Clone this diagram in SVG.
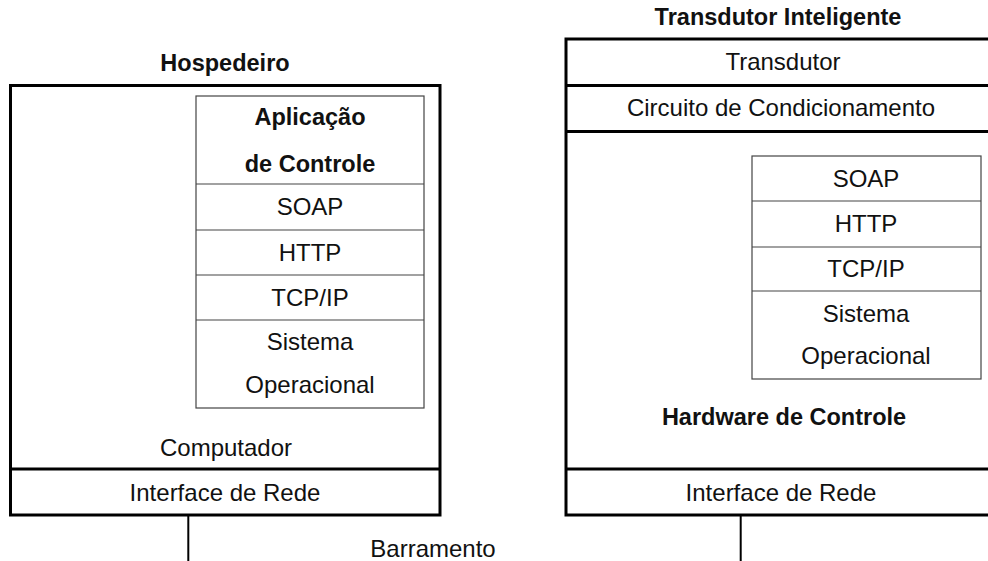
<svg xmlns="http://www.w3.org/2000/svg" width="988" height="561" viewBox="0 0 988 561">
<style>
  text { font-family: "Liberation Sans", Arial, sans-serif; font-size: 24px; fill: #111; text-anchor: middle; }
  .b { font-weight: bold; font-size: 23.5px; }
  .outer { fill: none; stroke: #000; stroke-width: 3; }
  .inner { fill: none; stroke: #444; stroke-width: 1.2; }
  .conn { stroke: #000; stroke-width: 2; fill: none; }
</style>
<rect width="988" height="561" fill="#fff"/>

<g id="hospedeiro">
  <text class="b" x="225" y="71">Hospedeiro</text>
  <rect class="outer" x="10.5" y="85.5" width="429.5" height="429.5"/>
  <line class="outer" x1="10.5" y1="469" x2="440" y2="469"/>
  <text x="226" y="456">Computador</text>
  <text x="225" y="501">Interface de Rede</text>
</g>

<g id="pilha-hospedeiro">
  <rect class="inner" x="196" y="96" width="228" height="312"/>
  <line class="inner" x1="196" y1="184" x2="424" y2="184"/>
  <line class="inner" x1="196" y1="230" x2="424" y2="230"/>
  <line class="inner" x1="196" y1="275" x2="424" y2="275"/>
  <line class="inner" x1="196" y1="320" x2="424" y2="320"/>
  <text class="b" x="310" y="125">Aplicação</text>
  <text class="b" x="310" y="171.5">de Controle</text>
  <text x="310" y="215">SOAP</text>
  <text x="310" y="260.5">HTTP</text>
  <text x="310" y="305.5">TCP/IP</text>
  <text x="310" y="350">Sistema</text>
  <text x="310" y="393">Operacional</text>
</g>

<g id="transdutor-inteligente">
  <text class="b" x="778" y="25">Transdutor Inteligente</text>
  <rect class="outer" x="566" y="39" width="432" height="476"/>
  <line class="outer" x1="566" y1="85.5" x2="998" y2="85.5"/>
  <line class="outer" x1="566" y1="131.5" x2="998" y2="131.5"/>
  <line class="outer" x1="566" y1="469" x2="998" y2="469"/>
  <text x="783" y="70">Transdutor</text>
  <text x="781" y="116">Circuito de Condicionamento</text>
  <text class="b" x="784" y="424.5">Hardware de Controle</text>
  <text x="781" y="501">Interface de Rede</text>
</g>

<g id="pilha-transdutor">
  <rect class="inner" x="752" y="156" width="229" height="223"/>
  <line class="inner" x1="752" y1="201" x2="981" y2="201"/>
  <line class="inner" x1="752" y1="247" x2="981" y2="247"/>
  <line class="inner" x1="752" y1="291" x2="981" y2="291"/>
  <text x="866" y="186.5">SOAP</text>
  <text x="866" y="232">HTTP</text>
  <text x="866" y="277">TCP/IP</text>
  <text x="866" y="321.5">Sistema</text>
  <text x="866" y="364">Operacional</text>
</g>

<g id="conectores">
  <line class="conn" x1="188.3" y1="516" x2="188.3" y2="561"/>
  <line class="conn" x1="740.7" y1="516" x2="740.7" y2="561"/>
  <text x="433" y="556.5">Barramento</text>
</g>
</svg>
